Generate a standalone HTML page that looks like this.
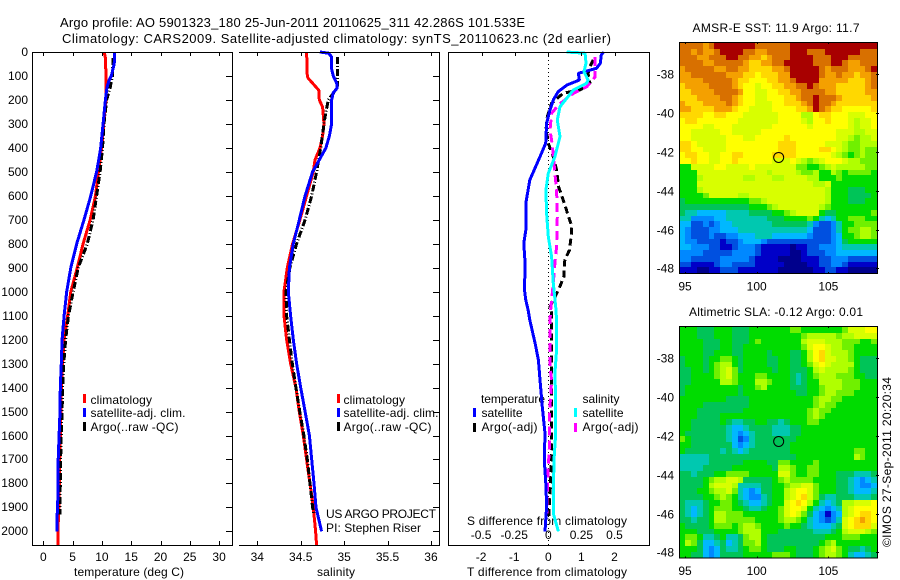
<!DOCTYPE html>
<html>
<head>
<meta charset="utf-8">
<title>Argo profile</title>
<style>
html,body{margin:0;padding:0;background:#fff;}
svg{display:block;}
text{font-family:"Liberation Sans",sans-serif;font-size:12px;fill:#000;}
</style>
</head>
<body>
<svg id="chart" xmlns="http://www.w3.org/2000/svg" width="900" height="580" viewBox="0 0 900 580">
<text x="60" y="27" style="font-size:13px" textLength="465">Argo profile: AO 5901323_180 25-Jun-2011 20110625_311 42.286S 101.533E</text>
<text x="62" y="43" style="font-size:13px" textLength="549">Climatology: CARS2009. Satellite-adjusted climatology: synTS_20110623.nc (2d earlier)</text>
<text x="74" y="576" textLength="110">temperature (deg C)</text>
<text x="317" y="576" textLength="38">salinity</text>
<text x="467" y="576" textLength="160">T difference from climatology</text>
<text x="467" y="525" textLength="160">S difference from climatology</text>
<text x="90.5" y="404" textLength="61.5">climatology</text>
<text x="90.5" y="417" textLength="95">satellite-adj. clim.</text>
<text x="90.5" y="431" textLength="88">Argo(..raw -QC)</text>
<text x="343.5" y="404" textLength="61.5">climatology</text>
<text x="343.5" y="417" textLength="95">satellite-adj. clim.</text>
<text x="343.5" y="431" textLength="88">Argo(..raw -QC)</text>
<text x="326" y="518" textLength="110">US ARGO PROJECT</text>
<text x="326" y="532" textLength="95">PI: Stephen Riser</text>
<text x="481" y="403" textLength="64">temperature</text>
<text x="481.5" y="417" textLength="41">satellite</text>
<text x="481.5" y="431" textLength="56">Argo(-adj)</text>
<text x="582.5" y="403" textLength="37">salinity</text>
<text x="582.5" y="417" textLength="41">satellite</text>
<text x="582.5" y="431" textLength="56">Argo(-adj)</text>
<text x="692.5" y="32" textLength="167">AMSR-E SST: 11.9 Argo: 11.7</text>
<text x="689" y="316" textLength="174">Altimetric SLA: -0.12 Argo: 0.01</text>
<text transform="translate(891,547) rotate(-90)" x="0" y="0" textLength="170">©IMOS 27-Sep-2011 20:20:34</text>
</svg>
<script>
// ---- profile data (depth in m, temperature in deg C, salinity, differences) ----
const tempClimDepth = [0,25,100,200,300,400,500,600,700,800,900,1000,1100,1200,1300,1400,1500,1600,1700,1800,1900,2000,2057];
const tempClimValue = [10.4,10.6,10.7,10.7,10.3,9.96,9.4,8.9,8.0,6.8,5.8,4.7,4.16,3.53,3.3,3.07,3.0,2.9,2.8,2.75,2.65,2.5,2.5];
const tempSatDepth = [0,50,70,100,120,150,200,300,400,450,500,600,700,800,900,1000,1100,1200,1300,1400,1500,1600,1700,1800,1900,1950,2000];
const tempSatValue = [12.2,12.1,11.9,11.6,11.2,10.85,10.6,10.2,9.8,9.45,9.1,8.1,6.95,5.7,4.7,4.0,3.55,3.2,3.07,2.9,2.85,2.7,2.55,2.5,2.45,2.3,2.3];
const tempArgoDepth = [25,100,150,200,300,400,500,600,700,800,900,1000,1100,1200,1300,1400,1500,1600,1700,1800,1900,1930];
const tempArgoValue = [11.9,11.8,11.4,10.8,10.35,10.1,9.7,9.1,8.5,7.5,5.95,5.1,4.3,3.8,3.5,3.3,3.2,3.07,2.95,2.9,2.85,2.85];

const salClimDepth = [0,100,110,130,160,200,230,300,350,400,450,500,600,700,800,900,1000,1100,1200,1300,1400,1500,1600,1700,1800,1900,2000,2057];
const salClimValue = [34.568,34.576,34.587,34.637,34.71,34.714,34.752,34.768,34.752,34.722,34.664,34.645,34.568,34.491,34.407,34.345,34.307,34.307,34.338,34.384,34.445,34.484,34.53,34.568,34.607,34.645,34.672,34.683];
const salSatDepth = [0,5,20,70,100,130,150,170,200,300,350,400,450,500,600,700,800,900,1000,1100,1200,1300,1400,1500,1600,1700,1800,1900,2000];
const salSatValue = [34.72,34.82,34.856,34.856,34.875,34.914,34.92,34.875,34.856,34.856,34.83,34.79,34.714,34.637,34.55,34.484,34.415,34.37,34.357,34.384,34.415,34.453,34.5,34.55,34.6,34.626,34.653,34.676,34.74];
const salArgoDepth = [20,100,150,200,250,300,400,500,600,700,800,900,1000,1100,1200,1300,1400,1500,1600,1700,1800,1900,1930];
const salArgoValue = [34.925,34.925,34.92,34.818,34.79,34.768,34.73,34.683,34.626,34.55,34.453,34.376,34.33,34.338,34.37,34.403,34.445,34.49,34.537,34.576,34.607,34.637,34.65];

const dTSatDepth = [0,12,47,68,89,117,138,165,200,242,298,381,437,534,631,743,798,882,993,1035,1076,1118,1215,1285,1368,1480,1591,1702,1814,1897,2000];
const dTSatValue = [1.67,1.6,1.57,1.46,0.91,0.94,0.56,0.3,0.15,0.05,-0.05,-0.08,-0.25,-0.56,-0.68,-0.68,-0.74,-0.7,-0.72,-0.68,-0.61,-0.56,-0.4,-0.3,-0.25,-0.18,-0.1,-0.12,-0.07,-0.05,-0.1];
const dTArgoDepth = [33,61,90,130,158,172,214,270,325,381,437,492,562,617,673,729,770,826,868,937,986,1063,1090,1229,1451,1632,1800,1886,1941];
const dTArgoValue = [1.36,1.26,1.2,1.26,0.96,0.45,0.1,-0.03,-0.07,0,0.15,0.25,0.31,0.45,0.58,0.71,0.69,0.64,0.5,0.47,0.33,0.05,0.1,0.1,0.1,0.1,0.07,0.03,0.02];
const dSSatDepth = [0,5,47,82,117,130,158,193,228,284,353,437,506,576,673,770,854,965,1063,1118,1243,1340,1451,1591,1702,1855,1925,2000];
const dSSatValue = [0.139,0.278,0.285,0.27,0.3,0.29,0.19,0.139,0.088,0.068,0.088,0.05,0,-0.018,-0.013,0,0.025,0.038,0.056,0.063,0.063,0.05,0.056,0.056,0.043,0.038,0.038,0.076];
const dSArgoDepth = [20,103,145,172,221,256,325,388,506,576,687,812,882,965,1063,1118,1312,1368,1521,1646,1730,1855,1925];
const dSArgoValue = [0.354,0.354,0.29,0.19,0.076,0.025,0.013,0.03,0.05,0.063,0.068,0.063,0.05,0.038,0.02,0.013,0.013,0.025,0.008,0.008,0,-0.008,-0.008];

// ---- tick labels ----
const depthTicks = [0,100,200,300,400,500,600,700,800,900,1000,1100,1200,1300,1400,1500,1600,1700,1800,1900,2000];
const tempTicks = [0,5,10,15,20,25,30];
const salTicks = [34,34.5,35,35.5,36];
const dTTicks = [-2,-1,0,1,2];
const dSTicks = [-0.5,-0.25,0,0.25,0.5];
const lonTicks = [95,100,105];
const latTicks = [38,40,42,44,46,48];
const floatLon = 101.533;
const floatLat = 42.286;

// ---- map data: colour level per cell, rows north to south ----
const sstLevels = [
[14,14,14,14,13,14,15,15,15,15,15,15,15,14,14,14,14,14,14,15,15,15,15,15,15,15,15,15,15,15,15,15,15,15],
[14,14,13,14,13,13,14,15,15,15,15,14,14,13,13,14,14,14,14,15,15,15,14,14,14,15,15,15,15,15,15,14,14,14],
[14,14,14,13,13,14,14,14,15,15,14,14,13,13,12,13,14,14,14,15,15,15,15,14,14,14,15,15,15,14,14,14,14,14],
[14,14,14,14,13,13,14,14,14,14,14,13,12,12,13,13,14,14,15,15,15,15,15,14,14,14,15,15,14,13,13,14,14,14],
[13,14,14,14,14,14,13,13,14,14,13,13,12,12,12,12,13,13,14,15,15,15,15,15,14,13,14,14,14,13,13,13,14,15],
[13,13,14,14,14,14,14,14,13,13,13,12,12,11,12,12,12,13,13,15,15,15,15,15,14,13,13,14,13,13,12,13,13,14],
[13,13,13,13,14,14,14,14,14,13,12,12,11,11,11,12,12,13,13,14,15,15,15,15,13,13,13,13,13,12,12,12,13,14],
[12,13,13,13,13,14,14,14,14,13,12,11,11,10,11,11,12,12,13,13,14,14,15,14,13,13,13,12,12,12,12,12,13,14],
[12,12,13,13,13,13,14,14,14,14,13,11,11,10,10,11,11,12,12,13,13,14,14,14,14,13,13,12,12,12,12,12,13,13],
[12,12,12,13,13,13,13,14,14,13,12,11,11,10,10,11,11,11,12,12,13,14,14,15,14,14,14,13,12,12,12,12,12,13],
[13,12,12,12,13,13,13,13,14,13,12,11,11,10,10,10,11,11,12,12,12,13,14,15,14,14,13,12,12,12,12,12,12,12],
[13,13,12,12,12,12,13,13,13,12,11,11,10,10,10,10,11,11,11,11,12,12,13,15,14,13,12,12,11,11,11,11,11,12],
[12,12,12,12,11,11,12,12,11,11,11,10,10,10,10,10,10,11,11,11,11,9,9,11,12,12,11,11,11,10,10,10,11,11],
[11,12,12,11,11,11,11,11,11,11,10,10,10,10,10,10,10,11,11,11,11,10,9,11,11,12,11,11,11,10,9,10,10,11],
[11,11,11,11,10,10,11,11,11,10,10,10,10,10,10,10,11,11,11,11,11,11,10,11,11,11,11,11,11,10,9,10,10,11],
[11,11,10,10,10,10,10,11,11,10,10,10,10,10,11,11,11,11,11,11,11,11,11,11,11,11,11,10,10,10,9,9,10,10],
[11,11,10,10,10,10,10,10,11,11,11,10,10,11,11,11,11,11,12,11,11,11,11,11,11,11,11,10,10,9,8,9,9,10],
[12,12,11,10,10,10,10,10,11,11,11,11,11,11,11,11,11,12,12,12,11,11,11,11,11,10,10,10,9,8,8,9,9,9],
[12,12,11,11,10,10,10,10,11,11,11,11,11,11,11,11,11,12,12,12,11,11,11,11,12,12,11,10,9,8,8,9,8,8],
[11,12,12,11,11,10,10,11,11,12,12,11,11,11,11,11,12,12,12,12,11,11,11,11,11,11,10,9,8,7,8,9,8,8],
[11,11,12,11,11,10,10,11,11,12,11,11,11,11,11,11,10,10,10,11,10,9,8,9,10,11,11,11,10,9,9,8,8,8],
[7,7,10,10,10,10,11,11,10,10,10,10,11,10,10,10,10,10,10,10,8,8,7,7,8,9,10,9,9,9,9,9,8,8],
[7,7,7,10,10,10,10,10,10,10,10,10,10,10,10,9,10,10,10,10,9,8,8,9,7,7,9,8,7,8,8,8,8,7],
[7,7,7,9,10,10,10,10,10,10,10,9,9,10,10,10,9,9,10,10,10,10,9,9,7,7,7,8,7,7,7,7,7,7],
[7,7,7,10,10,10,10,10,10,10,10,10,10,10,10,10,10,10,10,10,10,10,10,9,9,10,7,7,7,7,7,7,7,7],
[7,7,7,9,10,10,10,10,10,10,10,10,10,10,10,10,10,10,10,10,10,10,10,10,10,9,7,7,7,6,6,6,7,7],
[7,7,7,7,8,10,10,10,10,10,9,9,10,10,10,10,10,10,10,10,10,10,10,10,10,9,7,7,7,6,6,6,6,7],
[6,7,7,7,7,7,7,7,7,7,7,7,8,8,9,10,10,10,10,10,10,10,10,10,10,9,7,7,7,6,6,6,7,7],
[6,6,6,6,6,6,6,6,6,6,6,6,7,7,7,8,9,10,10,10,10,10,10,10,9,8,7,7,7,7,7,7,7,7],
[6,5,5,4,4,4,4,4,5,5,5,5,6,6,6,6,7,7,8,9,10,10,10,10,7,6,6,7,7,7,7,7,7,8],
[5,5,3,3,3,3,4,4,5,5,5,5,5,5,5,6,6,6,7,7,7,7,8,7,5,4,5,7,7,8,8,8,7,7],
[4,4,2,2,3,2,3,4,4,5,5,5,5,5,5,5,6,6,6,6,6,6,5,3,2,2,3,5,7,7,8,8,8,8],
[4,3,2,2,2,3,3,4,4,4,5,5,5,5,5,5,5,5,5,5,5,5,4,2,2,2,3,5,7,8,8,9,9,8],
[4,3,2,2,2,3,2,2,3,3,4,4,4,5,5,5,4,4,4,4,4,4,3,2,2,2,3,4,7,7,8,9,9,8],
[4,3,3,2,2,2,2,1,2,2,3,4,4,4,3,2,2,2,2,2,2,2,2,2,2,2,3,4,6,7,7,7,7,7],
[4,4,3,3,3,2,2,1,1,2,3,3,3,2,1,1,1,1,1,0,1,1,2,2,3,3,3,4,5,5,5,5,5,5],
[3,3,3,3,2,2,2,2,2,3,3,3,3,2,1,1,1,1,1,0,0,1,2,2,2,3,3,4,4,4,4,4,4,4],
[3,3,2,2,2,2,2,3,3,3,3,3,2,1,1,1,1,0,0,0,0,1,1,1,2,2,3,3,3,2,2,2,2,2],
[2,2,1,1,1,1,2,3,3,2,2,2,2,1,1,1,1,1,0,0,0,0,1,1,2,2,3,3,2,1,1,1,1,1],
[1,1,1,0,0,1,1,2,2,2,1,1,1,1,1,1,1,0,0,0,0,0,0,1,1,2,2,1,1,0,0,0,0,0]
];
const slaLevels = [
[7,7,7,6,6,6,7,7,7,6,6,6,7,7,7,7,7,7,7,8,8,7,7,7,7,7,7,7,8,10,10,10,11,11],
[7,7,7,6,6,6,7,7,7,6,6,6,7,7,7,7,7,7,7,7,7,8,9,9,9,9,9,8,9,9,10,10,10,10],
[7,7,7,7,6,6,6,7,7,6,6,6,7,8,7,7,7,7,7,7,7,9,10,10,10,9,9,9,8,8,8,7,7,8],
[7,7,7,7,6,6,6,7,7,6,6,7,7,7,7,7,7,7,7,7,7,8,10,11,11,10,9,9,8,8,7,7,7,7],
[7,7,7,7,6,6,7,7,7,6,6,7,7,7,7,6,7,7,7,6,6,7,9,11,12,10,9,9,9,8,7,7,7,7],
[6,7,7,7,6,7,7,8,8,7,6,7,7,7,7,6,6,7,7,6,6,7,9,11,12,10,10,9,9,8,7,6,6,6],
[6,7,7,7,6,7,8,9,9,7,6,7,7,7,7,6,6,7,7,6,6,7,8,10,11,10,9,9,9,9,7,6,6,6],
[6,6,7,7,6,7,8,9,10,8,6,7,7,7,7,7,6,7,7,6,6,6,7,9,10,9,9,9,9,8,7,6,6,6],
[6,6,7,7,7,7,8,9,10,8,7,7,7,8,8,7,7,7,7,6,5,6,7,8,9,9,9,8,8,8,7,7,6,6],
[6,6,7,7,7,7,7,9,9,8,7,7,7,9,9,8,7,7,7,6,5,6,7,7,9,9,9,9,8,8,8,7,7,7],
[6,7,7,7,7,7,7,7,7,7,6,7,7,8,9,7,7,7,7,6,6,6,7,7,8,9,9,9,8,8,8,7,7,7],
[6,7,7,7,7,7,7,7,7,7,6,7,7,7,7,7,7,7,7,7,6,6,7,7,8,9,9,8,8,8,7,7,7,7],
[7,7,7,7,7,7,7,7,6,6,6,6,7,7,7,7,7,7,7,7,7,7,7,8,9,9,8,8,7,7,7,7,7,7],
[7,7,7,7,6,6,6,6,6,6,6,6,7,7,7,7,7,7,7,7,7,7,7,8,9,8,8,7,7,7,7,7,7,7],
[7,7,7,6,6,6,6,6,6,6,6,7,7,7,7,7,7,7,7,7,7,7,8,9,8,8,7,7,7,7,7,7,7,7],
[7,7,7,6,6,6,6,7,7,7,7,7,7,7,7,7,7,7,7,7,7,7,8,9,8,7,7,7,7,7,7,7,7,7],
[7,7,6,6,6,6,6,7,6,5,5,6,6,7,7,6,6,5,6,7,7,7,8,8,7,7,7,7,7,7,7,7,7,7],
[7,7,6,6,6,6,6,6,5,4,4,5,6,6,6,6,5,5,5,6,6,7,7,7,7,7,7,7,7,7,7,7,7,7],
[7,6,6,6,6,6,6,6,5,4,3,4,5,6,6,6,5,5,5,6,6,7,7,7,7,7,7,7,7,7,7,7,7,7],
[8,7,6,6,6,6,6,6,5,4,2,3,5,6,6,6,6,6,6,6,7,7,7,7,7,7,7,7,7,7,7,7,7,7],
[7,7,6,6,6,6,6,6,6,4,3,4,5,6,6,6,6,6,6,7,7,7,7,7,7,7,7,7,7,7,7,7,7,7],
[7,6,6,6,6,6,6,5,6,5,4,5,6,6,6,6,6,6,6,7,7,7,7,7,7,7,7,7,7,7,8,8,7,7],
[5,5,5,5,5,6,6,6,6,6,6,6,6,6,6,6,6,6,6,6,7,7,7,7,7,7,7,7,7,7,9,8,7,7],
[5,5,5,5,5,6,6,6,6,6,6,7,7,7,7,6,6,8,8,7,7,7,7,8,7,7,7,7,7,7,7,7,7,7],
[5,5,5,5,6,6,6,6,6,7,7,7,7,7,7,7,6,9,9,8,7,7,8,8,7,7,7,7,7,7,7,7,7,7],
[6,6,5,6,6,6,7,7,8,8,8,8,7,7,7,7,7,10,10,8,7,7,8,8,7,7,7,6,6,6,5,5,5,6],
[6,6,6,6,7,8,9,9,10,10,9,6,6,6,6,6,7,8,9,8,8,8,8,7,7,7,7,6,6,5,4,3,4,5],
[6,6,6,6,7,9,10,10,10,9,5,5,5,5,6,6,7,7,8,9,9,10,10,8,7,7,7,6,6,5,4,3,3,4],
[6,6,6,7,7,8,9,9,10,8,5,4,3,4,6,6,7,7,9,10,11,11,10,8,7,7,7,6,6,5,4,4,4,5],
[6,6,6,6,7,7,8,9,8,7,5,4,3,3,5,6,7,7,9,10,11,12,10,8,6,5,5,6,6,6,5,5,5,6],
[6,5,5,5,6,7,7,8,8,7,6,5,4,4,5,6,7,7,10,11,12,11,9,7,5,4,5,6,9,9,10,10,10,11],
[6,5,4,5,6,7,8,8,8,7,7,6,5,5,6,7,7,8,10,11,11,10,7,5,4,3,4,5,9,10,11,11,11,11],
[6,5,4,5,6,7,9,9,8,8,8,7,7,7,7,7,7,8,10,11,10,8,6,4,3,1,3,4,9,10,11,12,12,11],
[6,6,5,6,6,7,9,9,8,8,8,8,8,7,7,7,7,8,9,9,8,7,5,4,3,2,3,5,10,11,12,13,12,11],
[7,6,6,6,6,7,8,8,8,7,8,9,9,8,7,7,7,7,8,7,7,6,5,4,4,4,5,6,10,11,12,12,12,10],
[7,7,7,6,6,6,7,7,7,7,8,9,9,9,7,7,7,6,6,6,6,6,6,5,5,5,6,7,9,10,10,10,9,8],
[7,8,8,7,5,5,6,7,5,5,6,8,9,9,7,6,6,6,6,6,6,6,6,6,6,7,7,7,8,8,8,7,7,7],
[7,9,8,6,4,4,5,6,4,5,6,8,8,9,7,6,6,6,6,6,6,6,6,6,7,8,9,7,7,7,7,7,7,7],
[7,7,7,6,4,3,4,6,5,5,6,7,8,8,7,6,6,6,7,7,6,6,6,7,8,9,10,8,7,6,6,5,6,7],
[7,7,6,6,4,3,4,6,6,6,6,7,7,7,7,7,8,8,8,7,6,6,6,7,8,9,9,8,7,5,4,4,5,6]
];

// ---- drawing ----
const svg = document.getElementById('chart');
const NS = 'http://www.w3.org/2000/svg';
const levelColors = ['#00008c','#0000c8','#0050e0','#0088ff','#00b8ff','#00c8b0','#00c458','#00dc00','#70f000','#b0ff00','#d8ff00','#ffff00','#ffd800','#f4a000','#d87000','#a80000'];

function add(tag, name, attrs) {
  const el = document.createElementNS(NS, tag);
  
  
  for (const k in attrs) el.setAttribute(k, attrs[k]);
  svg.appendChild(el);
  return el;
}
function hline(name, x1, x2, y, w) {
  return add('line', name, {x1:x1, x2:x2, y1:y, y2:y, stroke:'#000', 'stroke-width':w || 1, 'shape-rendering':'crispEdges'});
}
function vline(name, x, y1, y2, color, w) {
  return add('line', name, {x1:x, x2:x, y1:y1, y2:y2, stroke:color || '#000', 'stroke-width':w || 1, 'shape-rendering':'crispEdges'});
}
function label(name, txt, x, y, anchor) {
  const t = add('text', name, {x:x, y:y, 'text-anchor':anchor || 'middle'});
  t.textContent = txt;
  return t;
}

const PLOT_TOP = 52, PLOT_BOTTOM = 545;
const depthY = d => PLOT_TOP + d * 0.2397;
const tempX = v => 43.3 + v * 5.86;
const salX = v => 257.3 + (v - 34) * 86.83;
const dTX = v => 548.3 + v * 33.1;
const dSX = v => 548.3 + v * 132.4;

function series(name, xFn, depths, values, color, width, dash) {
  const pts = depths.map((d, i) => xFn(values[i]).toFixed(1) + ',' + depthY(d).toFixed(1)).join(' ');
  const attrs = {points:pts, fill:'none', stroke:color, 'stroke-width':width, 'stroke-linejoin':'bevel', 'shape-rendering':'crispEdges'};
  if (dash) attrs['stroke-dasharray'] = dash;
  return add('polyline', name, attrs);
}
function swatch(name, x, y, color) {
  return add('rect', name, {x:x, y:y, width:3, height:9, fill:color, 'shape-rendering':'crispEdges'});
}

// Panel 1: temperature
series('temperature-climatology-line', tempX, tempClimDepth, tempClimValue, '#ff0000', 3);
series('temperature-argo-line', tempX, tempArgoDepth, tempArgoValue, '#000', 3, '7 2 1 2');
series('temperature-satellite-line', tempX, tempSatDepth, tempSatValue, '#0000ff', 3);
// Panel 2: salinity
series('salinity-climatology-line', salX, salClimDepth, salClimValue, '#ff0000', 3);
series('salinity-argo-line', salX, salArgoDepth, salArgoValue, '#000', 3, '7 2 1 2');
series('salinity-satellite-line', salX, salSatDepth, salSatValue, '#0000ff', 3);
// Panel 3: differences
vline('zero-difference-line', 548.5, PLOT_TOP, PLOT_BOTTOM, '#000', 1).setAttribute('stroke-dasharray', '1 3');
series('t-diff-argo-line', dTX, dTArgoDepth, dTArgoValue, '#000', 3, '7 4');
series('s-diff-argo-line', dSX, dSArgoDepth, dSArgoValue, '#ff00ff', 3, '9 5');
series('t-diff-satellite-line', dTX, dTSatDepth, dTSatValue, '#0000ff', 3);
series('s-diff-satellite-line', dSX, dSSatDepth, dSSatValue, '#00ffff', 3);

// Axis frames and ticks
hline('temperature-top-axis', 32, 233, 52.5);
hline('temperature-bottom-axis', 32, 233, 545.5);
vline('temperature-left-axis', 32.5, 52, 546);
vline('temperature-right-axis', 232.5, 52, 546);
hline('salinity-top-axis', 239, 440, 52.5);
hline('salinity-bottom-axis', 239, 440, 545.5);
vline('salinity-right-axis', 439.5, 52, 546);
hline('difference-top-axis', 448, 650, 52.5);
hline('difference-bottom-axis', 448, 650, 545.5);
vline('difference-left-axis', 448.5, 52, 546);
vline('difference-right-axis', 649.5, 52, 546);

depthTicks.forEach(d => {
  const y = Math.round(depthY(d)) + 0.5;
  hline('depth-tick', 226, 232, y);
  hline('depth-tick-salinity', 433, 439, y);
  label('depth-tick-label', String(d), 28, Math.round(depthY(d)) + 4, 'end');
});
tempTicks.forEach(v => {
  const x = Math.round(tempX(v)) + 0.5;
  vline('temperature-tick', x, 52, 56);
  vline('temperature-tick', x, 541, 545);
  label('temperature-tick-label', String(v), tempX(v), 561);
});
salTicks.forEach(v => {
  const x = Math.round(salX(v)) + 0.5;
  vline('salinity-tick', x, 52, 56);
  vline('salinity-tick', x, 541, 545);
  label('salinity-tick-label', String(v), salX(v), 561);
});
dTTicks.forEach(v => {
  const x = Math.round(dTX(v)) + 0.5;
  vline('t-difference-tick', x, 52, 56);
  label('t-difference-tick-label', String(v), dTX(v) - (v < 0 ? 1 : 0), 561);
});
dSTicks.forEach(v => {
  label('s-difference-tick-label', String(v), dSX(v) - (v < 0 ? 1 : 0), 539);
});

// Legends
swatch('legend-climatology-swatch-temp', 83, 394, '#ff0000');
swatch('legend-satellite-swatch-temp', 83, 408, '#0000ff');
swatch('legend-argo-swatch-temp', 83, 422, '#000');
swatch('legend-climatology-swatch-sal', 337, 394, '#ff0000');
swatch('legend-satellite-swatch-sal', 337, 408, '#0000ff');
swatch('legend-argo-swatch-sal', 337, 422, '#000');
swatch('legend-t-satellite-swatch', 473, 408, '#0000ff');
swatch('legend-t-argo-swatch', 473, 423, '#000');
swatch('legend-s-satellite-swatch', 574, 408, '#00ffff');
swatch('legend-s-argo-swatch', 574, 423, '#ff00ff');

// Maps
function drawMap(prefix, levels, top, bottom, lat38Y) {
  const left = 679.5, right = 877;
  const nRows = levels.length;
  const nCols = levels[0].length;
  const cw = (right - left) / nCols;
  const ch = (bottom - top) / nRows;
  const lonX = lon => 756.7 + (lon - 100) * 14.33;
  const latY = lat => lat38Y + (lat - 38) * 19.4;
  levels.forEach((row, r) => {
    row.forEach((lv, c) => {
      const x0 = Math.round(left + c * cw), x1 = Math.round(left + (c + 1) * cw);
      const y0 = Math.round(top + r * ch), y1 = Math.round(top + (r + 1) * ch);
      add('rect', prefix + '-cell', {x:x0, y:y0, width:x1 - x0, height:y1 - y0, fill:levelColors[lv], 'shape-rendering':'crispEdges'});
    });
  });
  hline(prefix + '-top-axis', 679, 878, top - 0.5);
  hline(prefix + '-bottom-axis', 679, 878, bottom + 0.5);
  vline(prefix + '-left-axis', 679.5, top - 1, bottom + 1);
  vline(prefix + '-right-axis', 877.5, top - 1, bottom + 1);
  lonTicks.forEach(lon => {
    const x = Math.round(lonX(lon)) + 0.5;
    vline(prefix + '-lon-tick', x, top - 1, top + 1);
    vline(prefix + '-lon-tick', x, bottom - 1, bottom + 1);
    label(prefix + '-lon-label', String(lon), lonX(lon), bottom + 17.5);
  });
  latTicks.forEach(lat => {
    const y = Math.round(latY(lat)) + 0.5;
    hline(prefix + '-lat-tick', 876, 879, y);
    label(prefix + '-lat-label', '-' + lat, 674, y + 4, 'end');
  });
  add('circle', prefix + '-float-marker', {cx:lonX(floatLon), cy:latY(floatLat), r:5, fill:'none', stroke:'#000', 'stroke-width':1});
}
drawMap('sst-map', sstLevels, 43, 273, 74.3);
drawMap('sla-map', slaLevels, 327, 557.5, 358.3);
</script>
</body>
</html>
